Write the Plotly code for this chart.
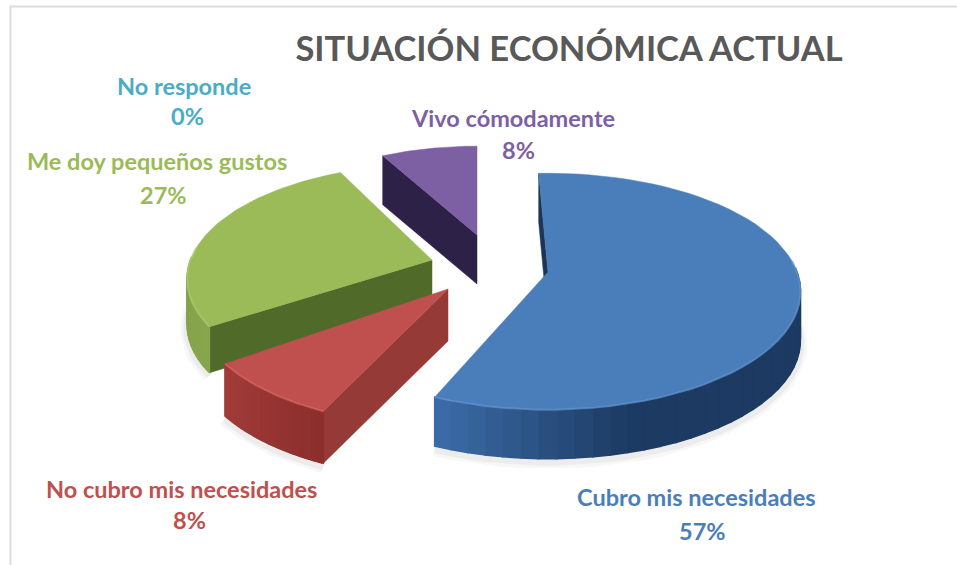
import numpy as np
import plotly.graph_objects as go

# ---- data ----
categories = ["Cubro mis necesidades", "No cubro mis necesidades", "Me doy pequeños gustos", "No responde", "Vivo cómodamente"]
values = [57, 8, 27, 0, 8]
title_text = "SITUACIÓN ECONÓMICA ACTUAL"

# ---- styles ----
top_colors = ["#4a7ebb", "#c0504d", "#9bbb59", "#4bacc6", "#7d5fa3"]
label_colors = ["#4a7ebb", "#c0504d", "#9bbb59", "#4bacc6", "#7d5fa3"]
inner_colors = ["#1c3658", "#953a37", "#506a2a", "#205867", "#2e2148"]
outer_light = ["#3a6ba6", "#a23c39", "#8fae52", "#2f8aa0", "#5a4478"]
outer_dark = ["#1c3a62", "#8c2f2d", "#7c9a46", "#205867", "#3d2e5c"]
glow = ["#6b9bd4", "#d9706c", "#b2d070", "#4bacc6", "#9a80bf"]
apex = [(548, 272), (448, 289), (432, 260), (477, 235), (477, 235)]
scale = [1.0, 1.0, 0.97, 0.9, 0.9]
turn_deg = [-2.5, 0, 3, 0, 0]
depth = [49, 52, 46, 49, 49]
name_pos = [(696, 497), (181, 489), (157, 161), (184, 86), (513, 118)]
pct_pos = [(702, 531), (189, 520), (163, 195), (187, 116), (518, 150)]
draw_order = [4, 2, 1, 0]

K, A, B = 0.165, 115.0, 249.0


def project(theta, i):
    u, v = np.sin(theta), -np.cos(theta)
    w = 1 - K * v
    return apex[i][0] + scale[i] * B * u / w, apex[i][1] + scale[i] * A * v / w


def poly(x, y, color, width=0.5):
    x, y = list(x), list(y)
    return go.Scatter(x=x + x[:1], y=y + y[:1], mode="lines", fill="toself", fillcolor=color,
                      line=dict(color=color, width=width), hoverinfo="skip", showlegend=False)


def mix(c1, c2, t):
    a = [int(c1[j:j + 2], 16) for j in (1, 3, 5)]
    b = [int(c2[j:j + 2], 16) for j in (1, 3, 5)]
    return "#%02x%02x%02x" % tuple(int(round(p + (q - p) * t)) for p, q in zip(a, b))


fractions = np.array(values) / sum(values)
stops = np.concatenate([[0], np.cumsum(fractions)]) * 2 * np.pi
fig = go.Figure()

for i in draw_order:
    a0 = stops[i] + np.radians(turn_deg[i])
    a1 = stops[i + 1] + np.radians(turn_deg[i])
    d = depth[i]
    th = np.linspace(a0, a1, 60)
    px, py = project(th, i)
    ax, ay = apex[i]

    # soft shadow under the front edge
    lower = py > ay
    if lower.sum() > 1:
        for w, op in ((14, 0.05), (8, 0.08)):
            fig.add_trace(go.Scatter(x=list(px[lower]), y=list(py[lower] + d + 3), mode="lines", opacity=op,
                                     line=dict(color="#777777", width=w), hoverinfo="skip", showlegend=False))

    # inner wall of the first edge of each slice
    x0, y0 = project(a0, i)
    fig.add_trace(poly([ax, x0, x0, ax], [ay, y0, y0 + d, ay + d], inner_colors[i]))

    # outer wall, as shaded strips (front of the rim only)
    n = len(th) - 1
    for s in range(n):
        if py[s] < ay and py[s + 1] < ay:
            continue
        t = s / max(n - 1, 1)
        if i == 0:
            shade = min(1.0, (1 - t) * 5.5)
        elif i == 2:
            shade = 0.4 + 0.6 * t
        else:
            shade = 1 - t
        col = mix(outer_light[i], outer_dark[i], shade)
        fig.add_trace(poly([px[s], px[s + 1], px[s + 1], px[s]],
                           [py[s], py[s + 1], py[s + 1] + d, py[s] + d], col, width=1.5))

    # top face
    fig.add_trace(poly([ax] + list(px), [ay] + list(py), top_colors[i]))
    # bevel highlight
    front = py > ay - 15
    if front.sum() > 1:
        fig.add_trace(go.Scatter(x=list(px[front]), y=list(py[front]), mode="lines", opacity=0.55,
                                 line=dict(color=glow[i], width=2), hoverinfo="skip", showlegend=False))

# labels
for i, name in enumerate(categories):
    for (lx, ly), text in ((name_pos[i], name), (pct_pos[i], f"{values[i]}%")):
        fig.add_annotation(x=lx, y=ly, xref="x", yref="y", showarrow=False, align="center",
                           text=f"<b>{text}</b>", xanchor="center", yanchor="middle",
                           font=dict(family="Lato, Carlito, sans-serif", size=23.5, color=label_colors[i]))

fig.update_layout(
    width=957, height=565, margin=dict(l=0, r=0, t=0, b=0),
    paper_bgcolor="white", plot_bgcolor="white", showlegend=False,
    title=dict(text=f"<b>{title_text}</b>", x=569 / 957, xanchor="center", y=1 - 49 / 565, yanchor="middle",
               font=dict(family="Lato, Carlito, sans-serif", size=34.5, color="#595959")),
    xaxis=dict(range=[0, 957], visible=False, fixedrange=True),
    yaxis=dict(range=[565, 0], visible=False, fixedrange=True),
    shapes=[
        dict(type="line", xref="x", yref="y", x0=10.5, x1=10.5, y0=6, y1=565, line=dict(color="#dcdcdc", width=2)),
        dict(type="line", xref="x", yref="y", x0=10, x1=957, y0=6.5, y1=6.5, line=dict(color="#dcdcdc", width=2)),
    ],
)
fig.write_html("out.html", config={"displayModeBar": False},
               post_script="document.body.style.margin='0';document.documentElement.style.overflow='hidden';")
